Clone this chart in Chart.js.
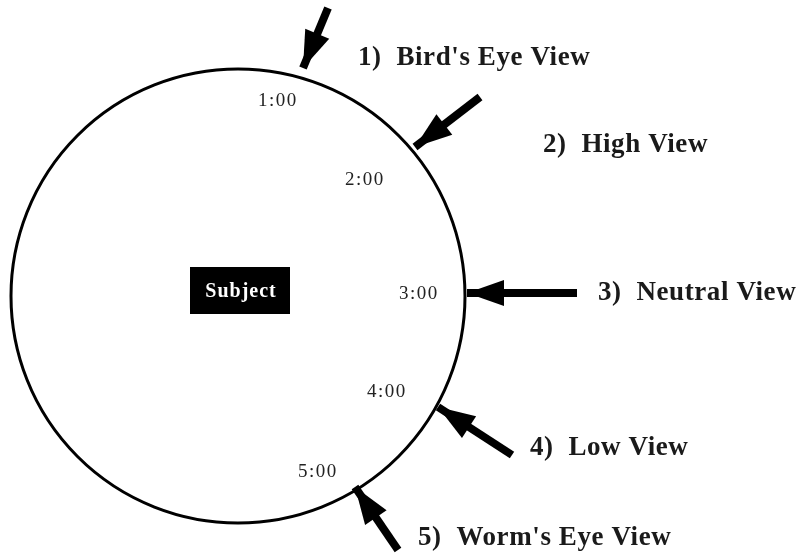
<!DOCTYPE html>
<html lang="en">
<head>
  <meta charset="UTF-8" />
  <title>Camera angle views</title>
  <script src="https://cdn.jsdelivr.net/npm/chart.js"></script>
  <style>
    html, body { margin: 0; padding: 0; background: #fff; }
    #wrap { width: 807px; height: 559px; }
  </style>
</head>
<body>
  <div id="wrap"><canvas id="viewChart" width="807" height="559"></canvas></div>

  <script>
    // diagram data (coordinates in the picture's own units)
    const viewLabels = ["1)  Bird's Eye View", "2)  High View", "3)  Neutral View", "4)  Low View", "5)  Worm's Eye View"];
    const viewLabelX = [358, 543, 598, 530, 418];
    const viewLabelY = [58, 145, 293, 448, 538];

    const clockLabels = ["1:00", "2:00", "3:00", "4:00", "5:00"];
    const clockX = [258, 345, 399, 367, 298];
    const clockY = [101, 180, 294, 392, 472];

    // arrows: tail -> tip
    const arrowTailX = [328, 480, 577, 512, 398];
    const arrowTailY = [8, 97, 293, 455, 550];
    const arrowTipX = [303, 415, 467, 438, 355];
    const arrowTipY = [68, 147, 293, 407, 487];

    const circleCenter = { x: 238, y: 296 };
    const circleRadius = 227;
    const subjectLabel = "Subject";
    const subjectBox = { x1: 190, y1: 267, x2: 290, y2: 314 };

    const serif = '"Liberation Serif", "Times New Roman", serif';

    // arrow shafts
    const datasets = arrowTipX.map((tx, i) => ({
      data: [{ x: arrowTailX[i], y: arrowTailY[i] }, { x: tx, y: arrowTipY[i] }],
      showLine: true,
      borderColor: '#000',
      borderWidth: 8,
      pointRadius: 0,
      borderCapStyle: 'butt'
    }));

    const decorPlugin = {
      id: 'decor',
      beforeDatasetsDraw(chart) {
        const { ctx, scales: { x, y } } = chart;
        // the big circle
        const cx = x.getPixelForValue(circleCenter.x), cy = y.getPixelForValue(circleCenter.y);
        const r = x.getPixelForValue(circleCenter.x + circleRadius) - cx;
        ctx.save();
        ctx.beginPath();
        ctx.arc(cx, cy, r, 0, Math.PI * 2);
        ctx.lineWidth = 3;
        ctx.strokeStyle = '#000';
        ctx.stroke();
        ctx.restore();
      },
      afterDatasetsDraw(chart) {
        const { ctx, scales: { x, y } } = chart;
        ctx.save();

        // arrow heads
        arrowTipX.forEach((tx, i) => {
          const px = x.getPixelForValue(tx), py = y.getPixelForValue(arrowTipY[i]);
          const qx = x.getPixelForValue(arrowTailX[i]), qy = y.getPixelForValue(arrowTailY[i]);
          const a = Math.atan2(py - qy, px - qx);
          const len = 37, half = 13;
          const bx = px - len * Math.cos(a), by = py - len * Math.sin(a);
          ctx.beginPath();
          ctx.moveTo(px, py);
          ctx.lineTo(bx + half * Math.sin(a), by - half * Math.cos(a));
          ctx.lineTo(bx - half * Math.sin(a), by + half * Math.cos(a));
          ctx.closePath();
          ctx.fillStyle = '#000';
          ctx.fill();
        });

        // subject box
        const sx1 = x.getPixelForValue(subjectBox.x1), sx2 = x.getPixelForValue(subjectBox.x2);
        const sy1 = y.getPixelForValue(subjectBox.y1), sy2 = y.getPixelForValue(subjectBox.y2);
        ctx.fillStyle = '#000';
        ctx.fillRect(sx1, sy1, sx2 - sx1, sy2 - sy1);
        ctx.fillStyle = '#fff';
        ctx.font = 'bold 20px ' + serif;
        ctx.letterSpacing = '1px';
        ctx.textAlign = 'center';
        ctx.textBaseline = 'middle';
        ctx.fillText(subjectLabel, (sx1 + sx2) / 2 + 1, (sy1 + sy2) / 2 + 1);

        // clock labels
        ctx.fillStyle = '#222';
        ctx.font = '19px ' + serif;
        ctx.letterSpacing = '1.5px';
        ctx.textAlign = 'left';
        clockLabels.forEach((t, i) => {
          ctx.fillText(t, x.getPixelForValue(clockX[i]), y.getPixelForValue(clockY[i]));
        });

        // view names
        ctx.fillStyle = '#1a1a1a';
        ctx.font = 'bold 27px ' + serif;
        ctx.letterSpacing = '0.6px';
        viewLabels.forEach((t, i) => {
          ctx.fillText(t, x.getPixelForValue(viewLabelX[i]), y.getPixelForValue(viewLabelY[i]));
        });

        ctx.restore();
      }
    };

    new Chart(document.getElementById('viewChart'), {
      type: 'scatter',
      data: { datasets },
      options: {
        responsive: false,
        animation: false,
        events: [],
        layout: { padding: 0 },
        plugins: { legend: { display: false }, tooltip: { enabled: false } },
        scales: {
          x: { type: 'linear', min: 0, max: 807, display: false },
          y: { type: 'linear', min: 0, max: 559, reverse: true, display: false }
        }
      },
      plugins: [decorPlugin]
    });
  </script>
</body>
</html>
